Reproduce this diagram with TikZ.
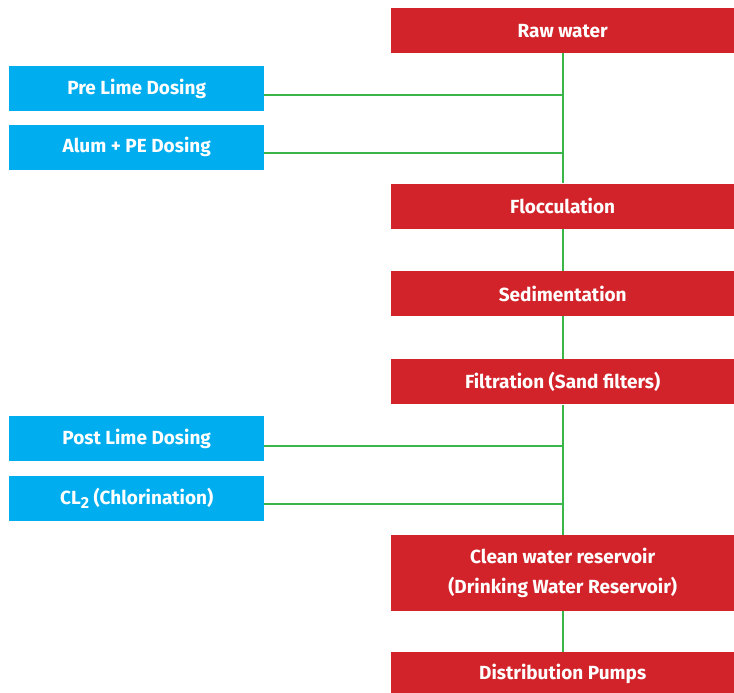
\documentclass[tikz,border=0pt]{standalone}
\usepackage{fontspec}
\setmainfont{Fira Sans}
\usetikzlibrary{positioning}
\definecolor{stepred}{HTML}{D2232A}
\definecolor{doseblue}{HTML}{00AEEF}
\definecolor{pipegreen}{HTML}{3AB54A}

\begin{document}
\begin{tikzpicture}[
  x=1pt, y=1pt,
  proc/.style={rectangle, fill=stepred, text=white,
    font=\fontsize{19}{30}\selectfont\bfseries, minimum width=343pt,
    minimum height=45pt, inner sep=0pt, align=center},
  dose/.style={rectangle, fill=doseblue, text=white,
    font=\fontsize{19}{30}\selectfont\bfseries, minimum width=255pt,
    minimum height=45pt, inner sep=0pt},
  pipe/.style={draw=pipegreen, line width=2pt}
]
  \useasboundingbox (0,0) rectangle (734,-693);
  \node[proc, anchor=north west] (raw) at (391,-8) {Raw water};
  \node[proc, below=130pt of raw]  (floc) {Flocculation};
  \node[proc, below=42pt of floc]  (sed)  {Sedimentation};
  \node[proc, below=43pt of sed]   (filt) {Filtration (Sand filters)};
  \node[proc, below=130pt of filt, minimum height=76pt] (clean)
    {Clean water reservoir\\(Drinking Water Reservoir)};
  \node[proc, below=41pt of clean, minimum height=43pt] (dist) {Distribution Pumps};
  \node[dose, anchor=north west] (prelime) at (9,-66) {Pre Lime Dosing};
  \node[dose, below=13pt of prelime] (alum) {Alum + PE Dosing};
  \node[dose, anchor=north west] (postlime) at (9,-416) {Post Lime Dosing};
  \node[dose, below=14pt of postlime] (chlor)
    {CL\raisebox{-4.5pt}{\fontsize{16}{16}\selectfont 2} (Chlorination)};
  \draw[pipe] (raw) -- (floc);
  \draw[pipe] (floc) -- (sed);
  \draw[pipe] (sed) -- (filt);
  \draw[pipe] (filt) -- (clean);
  \draw[pipe] (clean) -- (dist);
  \draw[pipe] ([yshift=-6.5pt]prelime.east) -- ([yshift=-6.5pt]prelime.east -| raw.south);
  \draw[pipe] ([yshift=-5.5pt]alum.east) -- ([yshift=-5.5pt]alum.east -| raw.south);
  \draw[pipe] ([yshift=-7pt]postlime.east) -- ([yshift=-7pt]postlime.east -| raw.south);
  \draw[pipe] ([yshift=-5.5pt]chlor.east) -- ([yshift=-5.5pt]chlor.east -| raw.south);
\end{tikzpicture}
\end{document}
